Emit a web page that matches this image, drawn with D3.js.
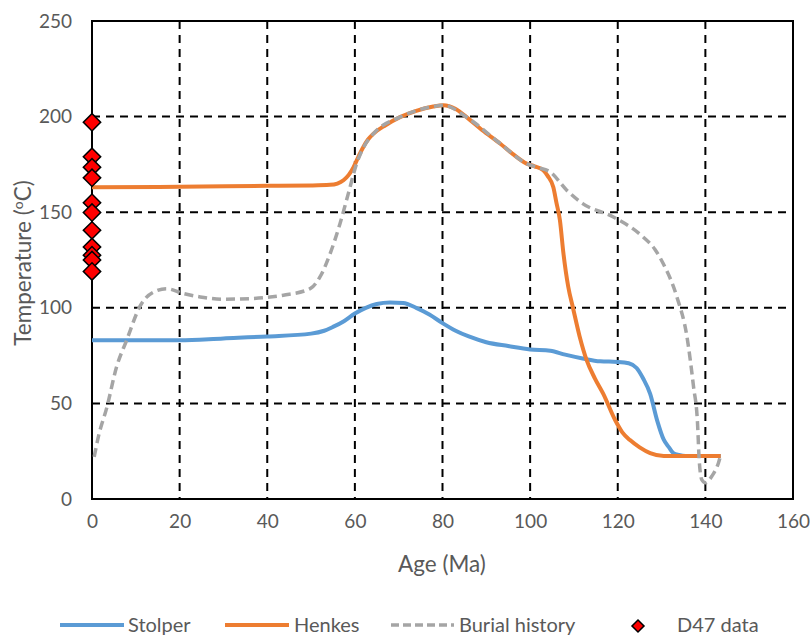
<!DOCTYPE html>
<html>
<head>
<meta charset="utf-8">
<script src="https://cdn.jsdelivr.net/npm/d3@7"></script>
<style>
  body { margin: 0; background: #fff; }
  text { font-family: Lato, "Open Sans", sans-serif; fill: #595959; }
</style>
</head>
<body>
<div class="chart"></div>
<script>
var width = 810;
var height = 636;

// data (age in Ma, temperature in degC)
var xTicks = [0, 20, 40, 60, 80, 100, 120, 140, 160];
var yTicks = [0, 50, 100, 150, 200, 250];

var stolperAge  = [0, 10, 20, 30, 40, 50, 53, 55, 57.5, 60, 62.5, 65, 68, 71, 74, 77, 80, 83, 86, 90, 95, 100, 104.6, 108, 112, 116, 120, 122.5, 124.3, 125.8, 127.4, 129, 130.5, 131.7, 132.7, 134, 135.5, 138, 143.5];
var stolperTemp = [83, 83, 83, 84, 85, 86.5, 88, 90, 93, 97, 100, 102, 102.8, 102.5, 100, 96.5, 92, 88, 85, 82, 80, 78.2, 77.5, 75.5, 73.5, 72, 71.7, 71, 68.5, 63, 55, 41, 31, 27, 24, 23, 22.5, 22.5, 22.5];

var henkesAge  = [0, 20, 40, 50, 54.3, 56, 57.4, 58.6, 59.7, 60.8, 61.9, 63, 64.2, 67, 70.3, 74, 77.9, 80.2, 83, 85.5, 89, 93.2, 96, 99.2, 101, 103, 104, 105.3, 106, 106.8, 107.6, 108.7, 109.8, 111.3, 112.9, 114.8, 116.7, 119.4, 121, 122.8, 125, 127.4, 130.5, 135, 143.5];
var henkesTemp = [163, 163.3, 163.8, 164, 164.3, 165, 166.7, 169.5, 173.6, 179, 184, 188, 191, 195.5, 199.7, 203, 205.3, 206, 204, 199.7, 193, 185.8, 180.5, 175.4, 174, 172, 169, 163, 155, 145.8, 128.5, 111, 99.8, 85, 72.6, 63, 55, 41.3, 35, 30.8, 27, 24, 22.5, 22.5, 22.5];

var burialAge  = [0.5, 1.5, 3.4, 5.6, 7.9, 11, 14.8, 17, 20.8, 24.7, 30, 36, 43.7, 49.8, 52, 54.3, 56.6, 58.5, 60.4, 62, 64.2, 70.3, 77.9, 80.2, 85.5, 93.2, 99.2, 101.5, 104.6, 108.4, 112, 119, 125.8, 128.5, 130.4, 133.5, 135.8, 137.3, 138.2, 138.6, 139.2, 140, 141.5, 143, 143.5];
var burialTemp = [22, 33, 48, 69, 83, 101, 109, 110, 107.5, 105.7, 104.5, 104.8, 106.6, 110, 116, 128, 144, 159.7, 175.4, 184, 191, 199.7, 205.3, 206, 199.7, 185.8, 175.4, 173.5, 171, 161.4, 154.5, 147.5, 137, 130.5, 123, 105.7, 84.8, 58.7, 40, 20, 10, 8.5, 12, 19, 23];

var d47Age  = [0, 0, 0, 0, 0, 0, 0, 0, 0, 0, 0];
var d47Temp = [197, 179, 173.5, 168, 155, 149.8, 140.5, 131.8, 127.5, 125, 119];

var margin = { left: 92, right: 17, top: 21, bottom: 137 };

var svg = d3.select(".chart")
    .append("svg")
    .attr("width", width)
    .attr("height", height);

var x = d3.scaleLinear()
    .domain([0, 160])
    .range([margin.left, width - margin.right]);

var y = d3.scaleLinear()
    .domain([0, 250])
    .range([height - margin.bottom, margin.top]);

// grid lines
var grid = svg.append("g");

grid.selectAll(".vgrid")
    .data(xTicks.slice(1, -1))
    .enter()
    .append("line")
    .attr("x1", function(d) { return x(d); })
    .attr("x2", function(d) { return x(d); })
    .attr("y1", y(250))
    .attr("y2", y(0))
    .attr("stroke", "#000")
    .attr("stroke-width", 2)
    .attr("stroke-dasharray", "8,6");

grid.selectAll(".hgrid")
    .data(yTicks.slice(1, -1))
    .enter()
    .append("line")
    .attr("x1", x(0))
    .attr("x2", x(160))
    .attr("y1", function(d) { return y(d); })
    .attr("y2", function(d) { return y(d); })
    .attr("stroke", "#000")
    .attr("stroke-width", 2)
    .attr("stroke-dasharray", "8,6");

// frame
svg.append("rect")
    .attr("x", x(0))
    .attr("y", y(250))
    .attr("width", x(160) - x(0))
    .attr("height", y(0) - y(250))
    .attr("fill", "none")
    .attr("stroke", "#000")
    .attr("stroke-width", 2);

// tick labels
var xAxis = d3.axisBottom(x).tickValues(xTicks).tickSize(0).tickPadding(16);
var gx = svg.append("g")
    .attr("transform", "translate(0," + y(0) + ")")
    .call(xAxis);
gx.select(".domain").remove();
gx.selectAll("text")
    .style("font-size", "19px")
    .style("font-family", "Lato, sans-serif")
    .attr("fill", "#595959");

var yAxis = d3.axisLeft(y).tickValues(yTicks).tickSize(0).tickPadding(20);
var gy = svg.append("g")
    .attr("transform", "translate(" + x(0) + ",0)")
    .call(yAxis);
gy.select(".domain").remove();
gy.selectAll("text")
    .style("font-size", "19px")
    .style("font-family", "Lato, sans-serif")
    .attr("fill", "#595959");

// axis titles
svg.append("text")
    .attr("x", 442)
    .attr("y", 572)
    .attr("text-anchor", "middle")
    .style("font-size", "22.5px")
    .text("Age (Ma)");

var yt = svg.append("text")
    .attr("transform", "translate(31,263) rotate(-90)")
    .attr("text-anchor", "middle")
    .style("font-size", "22.5px");
yt.append("tspan").text("Temperature (");
yt.append("tspan").attr("baseline-shift", "super").style("font-size", "14px").text("o");
yt.append("tspan").text("C)");

// lines
var line = d3.line()
    .x(function(d) { return x(d[0]); })
    .y(function(d) { return y(d[1]); })
    .curve(d3.curveMonotoneX);

var burial = d3.zip(burialAge, burialTemp);
var stolper = d3.zip(stolperAge, stolperTemp);
var henkes = d3.zip(henkesAge, henkesTemp);

svg.append("path")
    .datum(stolper)
    .attr("fill", "none")
    .attr("stroke", "#5B9BD5")
    .attr("stroke-width", 4)
    .attr("stroke-linejoin", "round")
    .attr("d", line);

svg.append("path")
    .datum(henkes)
    .attr("fill", "none")
    .attr("stroke", "#ED7D31")
    .attr("stroke-width", 4)
    .attr("stroke-linejoin", "round")
    .attr("d", line);

svg.append("path")
    .datum(burial)
    .attr("fill", "none")
    .attr("stroke", "#A5A5A5")
    .attr("stroke-width", 3.5)
    .attr("stroke-dasharray", "9,5")
    .attr("d", line);

// D47 points
var diamond = d3.symbol().type(d3.symbolSquare).size(150);

svg.append("g")
    .selectAll("path")
    .data(d3.zip(d47Age, d47Temp))
    .enter()
    .append("path")
    .attr("transform", function(d) { return "translate(" + x(d[0]) + "," + y(d[1]) + ") rotate(45)"; })
    .attr("d", diamond)
    .attr("fill", "#FF0000")
    .attr("stroke", "#000")
    .attr("stroke-width", 1.5);

// legend
var legend = svg.append("g");
var ly = 625;

legend.append("line")
    .attr("x1", 60).attr("x2", 124).attr("y1", ly).attr("y2", ly)
    .attr("stroke", "#5B9BD5").attr("stroke-width", 4);
legend.append("text")
    .attr("x", 128).attr("y", ly + 7)
    .style("font-size", "20px")
    .text("Stolper");

legend.append("line")
    .attr("x1", 225).attr("x2", 289).attr("y1", ly).attr("y2", ly)
    .attr("stroke", "#ED7D31").attr("stroke-width", 4);
legend.append("text")
    .attr("x", 294).attr("y", ly + 7)
    .style("font-size", "20px")
    .text("Henkes");

legend.append("line")
    .attr("x1", 391).attr("x2", 454).attr("y1", ly).attr("y2", ly)
    .attr("stroke", "#A5A5A5").attr("stroke-width", 3.5)
    .attr("stroke-dasharray", "8,4");
legend.append("text")
    .attr("x", 459).attr("y", ly + 7)
    .style("font-size", "20px")
    .text("Burial history");

legend.append("path")
    .attr("transform", "translate(638," + (ly + 1) + ") rotate(45)")
    .attr("d", d3.symbol().type(d3.symbolSquare).size(72))
    .attr("fill", "#FF0000")
    .attr("stroke", "#000")
    .attr("stroke-width", 1.5);
legend.append("text")
    .attr("x", 677).attr("y", ly + 7)
    .style("font-size", "20px")
    .text("D47 data");
</script>
</body>
</html>
